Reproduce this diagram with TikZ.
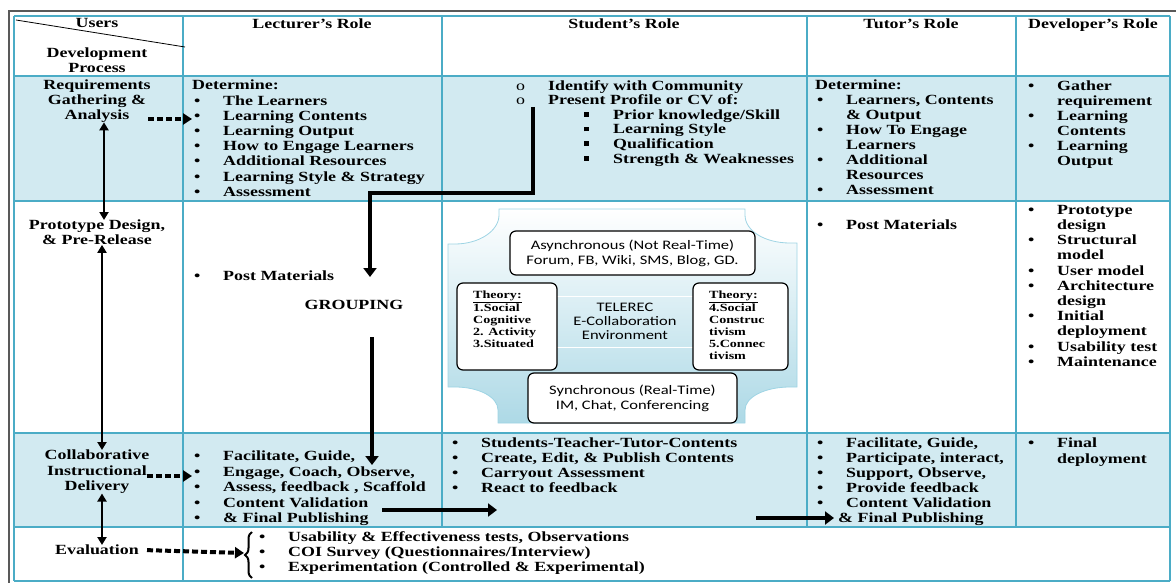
\documentclass[tikz,border=0pt]{standalone}
\usepackage{fontspec}
\setmainfont{Liberation Serif}[FakeStretch=1.28]
\newfontfamily\DiagramFont{Carlito}[FakeStretch=1.27]
\usepackage{tikz}
\usetikzlibrary{arrows.meta,decorations.pathreplacing}

\definecolor{GridBlue}{HTML}{4BACC6}
\definecolor{BandBlue}{HTML}{D2EAF1}
\definecolor{FrameGray}{HTML}{595959}
\definecolor{PlaqueLine}{HTML}{9ED4E4}
\definecolor{PlaqueBlue}{HTML}{ADD9E6}

\newcommand{\ItemDot}{\makebox[31pt][l]{\hspace{2pt}\textbullet}}
\newcommand{\ItemSkip}{\hspace*{31pt}}
\newcommand{\ItemCircle}{\makebox[34pt][l]{\hspace{2pt}\mdseries o}}
\newcommand{\ItemSquare}{\hspace*{70pt}\makebox[29pt][l]{\rule[2.5pt]{4.5pt}{4.5pt}}}

\tikzset
{
  CellTextStyle/.style =
  {
    anchor = north west,
    align = left,
    inner sep = 0pt,
    font = \fontsize{14}{15.2}\selectfont\bfseries,
  },
  HeadTextStyle/.style =
  {
    anchor = north,
    align = center,
    inner sep = 0pt,
    font = \fontsize{14}{14.6}\selectfont\bfseries,
  },
  TheoryTextStyle/.style =
  {
    anchor = north west,
    align = left,
    inner sep = 0pt,
    font = \fontsize{11}{11.8}\selectfont\bfseries,
  },
  MediaBoxStyle/.style =
  {
    shape = rectangle,
    rounded corners = 6pt,
    draw = black,
    line width = 1.2pt,
    fill = white,
    align = center,
    inner sep = 0pt,
    font = \DiagramFont\fontsize{13}{15}\selectfont,
  },
  GridLineStyle/.style =
  {
    draw = GridBlue,
    line width = 1.3pt,
  },
  ThickArrowStyle/.style =
  {
    line width = 4.5pt,
    arrows = {-Triangle[length = 9pt, width = 13pt]},
  },
  SideArrowStyle/.style =
  {
    line width = 2pt,
    arrows = {Triangle[length = 8pt, width = 9pt]-Triangle[length = 8pt, width = 9pt]},
  },
  DashArrowStyle/.style =
  {
    line width = 4pt,
    dash pattern = on 6pt off 3pt,
    arrows = {-Triangle[length = 9pt, width = 11pt]},
  },
}

\begin{document}
\begin{tikzpicture}[x = 1pt, y = -1pt]
  \useasboundingbox (0,0) rectangle (1176,583);

  % banded rows
  \fill[BandBlue] (14,76) rectangle (1170,201);
  \fill[BandBlue] (14,433) rectangle (1170,527);

  % e-collaboration plaque
  \shade[top color = white, bottom color = PlaqueBlue, draw = PlaqueLine, line width = 0.8pt]
    (499,209) -- (745,209) -- (745,215)
    .. controls (745,231) and (765,243) .. (790,243) -- (797,243)
    -- (797,387) -- (790,387)
    .. controls (765,387) and (745,397) .. (745,410) -- (745,423)
    -- (498,423) -- (498,410)
    .. controls (498,397) and (479,387) .. (455,387) -- (448,387)
    -- (448,244) -- (455,244)
    .. controls (479,244) and (499,231) .. (499,215) -- cycle;
  \draw[white, line width = 0.8pt] (557,296) -- (693,296) (557,347) -- (693,347);

  % grid
  \foreach \y in {16,76,201,433,527,581}
    \draw[GridLineStyle] (14,\y) -- (1170,\y);
  \foreach \x in {14,183,1170}
    \draw[GridLineStyle] (\x,16) -- (\x,581);
  \foreach \x in {442,807,1016}
    \draw[GridLineStyle] (\x,16) -- (\x,527);
  \draw[FrameGray, line width = 1.6pt] (9,583) -- (9,11) -- (1176,11);
  \draw[line width = 0.8pt] (16,20) -- (185,47);

  % header
  \node[HeadTextStyle] (UsersHead) at (97,18) {Users};
  \node[HeadTextStyle] (ProcessHead) at (97,48) {Development\\Process};
  \node[HeadTextStyle] (LecturerHead) at (312,19) {Lecturer's Role};
  \node[HeadTextStyle] (StudentHead) at (624,19) {Student's Role};
  \node[HeadTextStyle] (TutorHead) at (911,19) {Tutor's Role};
  \node[HeadTextStyle] (DeveloperHead) at (1093,19) {Developer's Role};

  % requirements
  \node[HeadTextStyle] (ReqLabel) at (97,80) {Requirements\\Gathering \&\\Analysis};
  \node[CellTextStyle] (LectReq) at (192,80) {Determine:\\
    \ItemDot The Learners\\
    \ItemDot Learning Contents\\
    \ItemDot Learning Output\\
    \ItemDot How to Engage Learners\\
    \ItemDot Additional Resources\\
    \ItemDot Learning Style \& Strategy\\
    \ItemDot Assessment};
  \node[CellTextStyle, font = \fontsize{14}{14.6}\selectfont\bfseries] (StudReq) at (514,80) {%
    \ItemCircle Identify with Community\\
    \ItemCircle Present Profile or CV of:\\
    \ItemSquare Prior knowledge/Skill\\
    \ItemSquare Learning Style\\
    \ItemSquare Qualification\\
    \ItemSquare Strength \& Weaknesses};
  \node[CellTextStyle, font = \fontsize{14}{15}\selectfont\bfseries] (TutorReq) at (815,80) {Determine:\\
    \ItemDot Learners, Contents\\
    \ItemSkip \& Output\\
    \ItemDot How To Engage\\
    \ItemSkip Learners\\
    \ItemDot Additional\\
    \ItemSkip Resources\\
    \ItemDot Assessment};
  \node[CellTextStyle, font = \fontsize{14}{15}\selectfont\bfseries] (DevReq) at (1026,81) {%
    \ItemDot Gather\\
    \ItemSkip requirement\\
    \ItemDot Learning\\
    \ItemSkip Contents\\
    \ItemDot Learning\\
    \ItemSkip Output};

  % prototype
  \node[HeadTextStyle] (ProtoLabel) at (97,220) {Prototype Design,\\\& Pre-Release};
  \node[CellTextStyle] (LectPost) at (192,271) {\ItemDot Post Materials};
  \node[HeadTextStyle] (GroupingText) at (354,300) {GROUPING};
  \node[CellTextStyle] (TutorPost) at (815,220) {\ItemDot Post Materials};
  \node[CellTextStyle] (DevProto) at (1026,205) {%
    \ItemDot Prototype\\
    \ItemSkip design\\
    \ItemDot Structural\\
    \ItemSkip model\\
    \ItemDot User model\\
    \ItemDot Architecture\\
    \ItemSkip design\\
    \ItemDot Initial\\
    \ItemSkip deployment\\
    \ItemDot Usability test\\
    \ItemDot Maintenance};

  \node[MediaBoxStyle, minimum width = 245pt, minimum height = 44pt] (AsyncBox) at (632.5,253)
    {Asynchronous (Not Real-Time)\\Forum, FB, Wiki, SMS, Blog, GD.};
  \node[MediaBoxStyle, minimum width = 100pt, minimum height = 87pt] (TheoryLeftBox) at (507,326.5) {};
  \node[MediaBoxStyle, minimum width = 95pt, minimum height = 87pt] (TheoryRightBox) at (740.5,326.5) {};
  \node[MediaBoxStyle, minimum width = 209pt, minimum height = 50pt] (SyncBox) at (632.5,398)
    {Synchronous (Real-Time)\\IM, Chat, Conferencing};
  \node[TheoryTextStyle] (TheoryLeftText) at (473,291)
    {\underline{Theory:}\\1.Social\\Cognitive\\2. Activity\\3.Situated};
  \node[TheoryTextStyle] (TheoryRightText) at (709,291)
    {\underline{Theory:}\\4.Social\\Construc\\tivism\\5.Connec\\tivism};
  \node[anchor = north, align = center, inner sep = 0pt, font = \DiagramFont\fontsize{13}{14}\selectfont]
    (TelerecText) at (625,303) {TELEREC\\E-Collaboration\\Environment};

  % delivery
  \node[HeadTextStyle, font = \fontsize{14}{15.2}\selectfont\bfseries] (CollabLabel) at (97,450)
    {Collaborative\\Instructional\\Delivery};
  \node[CellTextStyle, font = \fontsize{14}{15.5}\selectfont\bfseries] (LectDel) at (192,451) {%
    \ItemDot Facilitate, Guide,\\
    \ItemDot Engage, Coach, Observe,\\
    \ItemDot Assess, feedback , Scaffold\\
    \ItemDot Content Validation\\
    \ItemDot \& Final Publishing};
  \node[CellTextStyle, font = \fontsize{14}{15}\selectfont\bfseries] (StudDel) at (450,438) {%
    \ItemDot Students-Teacher-Tutor-Contents\\
    \ItemDot Create, Edit, \& Publish Contents\\
    \ItemDot Carryout Assessment\\
    \ItemDot React to feedback};
  \node[CellTextStyle, font = \fontsize{14}{15}\selectfont\bfseries] (TutorDel) at (815,438) {%
    \ItemDot Facilitate, Guide,\\
    \ItemDot Participate, interact,\\
    \ItemDot Support, Observe,\\
    \ItemDot Provide feedback\\
    \ItemDot Content Validation\\
    \hspace*{23pt}\& Final Publishing};
  \node[CellTextStyle] (DevDel) at (1026,438) {\ItemDot Final\\\ItemSkip deployment};

  % evaluation
  \node[HeadTextStyle] (EvalLabel) at (97,545) {Evaluation};
  \node[CellTextStyle, font = \fontsize{14}{15}\selectfont\bfseries] (EvalList) at (257,531) {%
    \ItemDot Usability \& Effectiveness tests, Observations\\
    \ItemDot COI Survey (Questionnaires/Interview)\\
    \ItemDot Experimentation (Controlled \& Experimental)};
  \draw[line width = 2pt, decorate, decoration = {brace, amplitude = 7pt}] (252,578) -- (252,532);

  % connectors
  \coordinate (ReqOut) at (148,119);
  \coordinate (CollabOut) at (147,476);
  \coordinate (BraceTip) at (244,553);
  \coordinate (ProfileOut) at (533,107);
  \coordinate (GroupIn) at (370,277);
  \coordinate (GroupOut) at (372,337);
  \coordinate (DeliveryIn) at (372,465);
  \coordinate (ValidOut) at (382,510);
  \coordinate (StudentIn) at (497,510);
  \coordinate (StudentOut) at (756,518);
  \coordinate (TutorIn) at (834,518);

  \draw[SideArrowStyle] ([xshift = 7pt]ReqLabel.south) -- ([xshift = 7pt]ProtoLabel.north);
  \draw[SideArrowStyle] ([xshift = 5pt]ProtoLabel.south) -- ([xshift = 5pt]CollabLabel.north);
  \draw[SideArrowStyle] ([xshift = 5pt]CollabLabel.south) -- ([xshift = 5pt]EvalLabel.north);
  \draw[DashArrowStyle] (ReqOut) -- (ReqOut -| LectReq.west);
  \draw[DashArrowStyle] (CollabOut) -- (CollabOut -| LectDel.west);
  \draw[DashArrowStyle] ([xshift = 8pt]EvalLabel.east) -- (BraceTip);
  \draw[ThickArrowStyle] (ProfileOut) -- ++(0,86) -| (GroupIn);
  \draw[ThickArrowStyle] (GroupOut) -- (DeliveryIn);
  \draw[ThickArrowStyle] (ValidOut) -- (StudentIn);
  \draw[ThickArrowStyle] (StudentOut) -- (TutorIn);
\end{tikzpicture}
\end{document}
